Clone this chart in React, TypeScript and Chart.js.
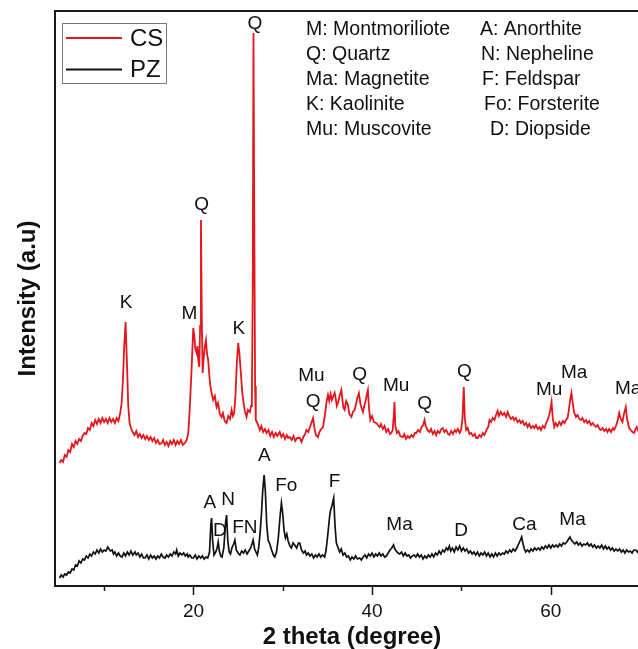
import React, { useEffect, useRef } from "react";
import { Chart, registerables } from "chart.js";

Chart.register(...registerables);

// ---------- DATA ----------
// CS pattern: [2theta (degree), intensity (a.u., offset trace)]
const csPoints: [number, number][] = [
  [5.0,123],[5.2,126],[5.4,124],[5.6,131],[5.8,129],[6.0,136],[6.2,134],[6.4,142],[6.6,139],[6.8,145],
  [7.0,142],[7.2,147],[7.4,145],[7.6,150],[7.8,153],[8.0,152],[8.2,158],[8.4,156],[8.6,163],[8.8,160],
  [9.0,166],[9.2,162],[9.4,167],[9.6,163],[9.8,168],[10.0,164],[10.2,167],[10.4,163],[10.6,168],[10.8,164],
  [11.0,167],[11.2,163],[11.4,168],[11.6,165],[11.8,173],[11.95,182],[12.1,205],[12.25,240],[12.4,264],[12.55,225],
  [12.7,180],[12.85,163],[13.0,158],[13.2,154],[13.4,151],[13.6,155],[13.8,149],[14.0,152],[14.2,148],[14.4,151],
  [14.6,147],[14.8,150],[15.0,146],[15.2,149],[15.4,145],[15.6,148],[15.8,143],[16.0,146],[16.2,142],[16.45,143],
  [16.6,146],[16.8,141],[17.0,144],[17.2,140],[17.4,145],[17.6,142],[17.8,146],[18.0,141],[18.2,145],[18.4,142],
  [18.6,146],[18.8,141],[19.05,143],[19.25,146],[19.42,153],[19.6,180],[19.8,219],[19.98,258],[20.1,250],[20.2,238],
  [20.36,233],[20.45,240],[20.54,226],[20.65,219],[20.75,260],[20.84,366],[20.93,270],[21.03,213],[21.15,228],[21.28,240],
  [21.4,246],[21.52,232],[21.65,226],[21.8,208],[21.9,200],[22.03,193],[22.2,186],[22.4,190],[22.59,179],[22.75,183],
  [22.95,172],[23.15,169],[23.3,173],[23.5,165],[23.71,163],[23.9,170],[24.1,167],[24.27,176],[24.42,170],[24.56,173],
  [24.7,190],[24.85,222],[25.01,243],[25.15,232],[25.31,213],[25.45,195],[25.56,186],[25.75,175],[25.94,169],[26.1,176],
  [26.31,174],[26.45,180],[26.54,186],[26.64,300],[26.72,553],[26.8,390],[26.9,200],[26.98,166],[27.2,162],[27.43,156],
  [27.6,160],[27.8,154],[28.0,157],[28.18,153],[28.4,156],[28.6,150],[28.8,154],[29.0,149],[29.2,153],[29.4,150],
  [29.66,154],[29.85,149],[30.05,152],[30.25,147],[30.45,151],[30.6,148],[30.78,149],[31.0,146],[31.2,150],[31.4,145],
  [31.6,148],[31.9,148],[32.1,144],[32.3,149],[32.5,152],[32.65,156],[32.85,154],[33.05,159],[33.2,163],[33.39,168],
  [33.55,158],[33.7,151],[33.94,149],[34.1,154],[34.3,157],[34.5,159],[34.7,170],[34.9,184],[35.06,191],[35.2,185],
  [35.35,192],[35.5,186],[35.62,189],[35.81,193],[35.95,186],[36.05,180],[36.18,183],[36.35,190],[36.56,196],[36.7,184],
  [36.8,178],[36.93,176],[37.1,185],[37.3,181],[37.45,172],[37.68,169],[37.85,174],[38.04,176],[38.2,182],[38.35,188],
  [38.52,193],[38.7,182],[38.85,177],[38.97,174],[39.15,181],[39.3,186],[39.42,192],[39.53,196],[39.65,178],[39.8,166],
  [40.0,170],[40.2,164],[40.47,163],[40.65,161],[40.84,159],[41.0,162],[41.2,157],[41.4,160],[41.59,154],[41.8,157],
  [42.0,152],[42.15,153],[42.3,156],[42.42,170],[42.51,184],[42.6,160],[42.77,153],[42.95,155],[43.15,150],[43.44,149],
  [43.6,152],[43.8,147],[44.0,150],[44.19,148],[44.4,151],[44.6,149],[44.8,153],[44.94,153],[45.15,156],[45.35,154],
  [45.55,159],[45.72,161],[45.87,166],[46.0,160],[46.2,156],[46.42,154],[46.6,157],[46.8,152],[47.0,155],[47.17,151],
  [47.35,155],[47.55,153],[47.75,157],[47.91,158],[48.1,154],[48.3,156],[48.5,152],[48.66,151],[48.85,155],[49.05,152],
  [49.25,156],[49.41,154],[49.6,157],[49.8,153],[49.97,156],[50.12,168],[50.26,199],[50.38,168],[50.53,156],[50.7,158],
  [50.9,152],[51.08,153],[51.3,150],[51.5,152],[51.65,148],[51.82,148],[52.0,151],[52.2,149],[52.4,153],[52.57,151],
  [52.8,156],[53.0,159],[53.15,166],[53.32,164],[53.5,168],[53.7,166],[53.88,171],[54.05,175],[54.2,170],[54.4,174],
  [54.6,171],[54.8,173],[55.0,169],[55.17,174],[55.35,170],[55.55,167],[55.75,169],[55.92,166],[56.1,168],[56.3,164],
  [56.5,166],[56.67,163],[56.85,165],[57.05,161],[57.25,163],[57.41,159],[57.6,162],[57.8,158],[58.0,160],[58.16,158],
  [58.35,161],[58.55,157],[58.75,159],[58.91,156],[59.1,160],[59.3,158],[59.5,163],[59.64,166],[59.8,170],[59.95,176],
  [60.09,184],[60.22,168],[60.39,159],[60.55,163],[60.75,160],[60.95,164],[61.14,161],[61.35,165],[61.55,163],[61.7,166],
  [61.88,168],[62.0,174],[62.15,185],[62.32,193],[62.45,184],[62.6,174],[62.82,169],[63.0,171],[63.2,167],[63.37,166],
  [63.55,168],[63.75,164],[63.95,166],[64.11,163],[64.3,165],[64.5,161],[64.7,163],[64.86,161],[65.05,159],[65.25,161],
  [65.45,157],[65.61,156],[65.8,158],[66.0,155],[66.2,157],[66.35,154],[66.55,157],[66.75,154],[66.95,158],[67.1,156],
  [67.3,160],[67.5,166],[67.66,173],[67.8,168],[67.9,166],[68.03,164],[68.15,170],[68.28,175],[68.4,179],[68.55,167],
  [68.77,158],[68.95,156],[69.15,154],[69.33,153],[69.5,157],[69.63,159],[69.8,155],[70.0,158],[70.25,154],[70.5,157],
  [70.75,153],[71.0,156]
];

// PZ pattern: [2theta (degree), intensity (a.u.)]
const pzPoints: [number, number][] = [
  [5.0,8],[5.2,11],[5.4,9],[5.6,12],[5.8,11],[6.0,14],[6.2,13],[6.4,17],[6.6,16],[6.8,21],
  [7.0,20],[7.2,25],[7.4,23],[7.6,27],[7.8,26],[8.0,30],[8.2,28],[8.4,32],[8.6,30],[8.8,34],
  [9.0,32],[9.2,36],[9.4,33],[9.6,37],[9.8,34],[10.0,36],[10.2,35],[10.4,39],[10.55,37],[10.7,35],
  [10.9,36],[11.05,32],[11.2,34],[11.4,30],[11.6,33],[11.8,30],[12.0,29],[12.2,33],[12.4,30],[12.6,34],
  [12.8,31],[13.0,35],[13.2,31],[13.46,34],[13.6,31],[13.8,33],[14.0,29],[14.2,32],[14.4,28],[14.58,28],
  [14.8,31],[15.0,27],[15.2,31],[15.4,28],[15.6,30],[15.8,27],[16.0,30],[16.2,28],[16.4,32],[16.6,29],
  [16.82,28],[17.0,31],[17.2,29],[17.4,32],[17.6,30],[17.8,34],[18.0,32],[18.12,36],[18.3,30],[18.5,33],
  [18.7,31],[18.9,33],[19.1,30],[19.3,32],[19.42,29],[19.6,31],[19.8,28],[20.0,28],[20.2,31],[20.4,27],
  [20.6,30],[20.8,28],[21.0,30],[21.2,27],[21.4,29],[21.6,28],[21.8,34],[21.95,62],[22.03,68],[22.15,45],
  [22.3,31],[22.5,34],[22.65,38],[22.77,44],[22.9,35],[23.05,30],[23.2,29],[23.4,38],[23.6,64],[23.71,71],
  [23.85,45],[24.0,34],[24.15,32],[24.3,38],[24.5,42],[24.64,46],[24.8,36],[25.0,33],[25.2,31],[25.4,35],
  [25.6,33],[25.8,36],[26.0,32],[26.2,35],[26.4,38],[26.55,42],[26.68,46],[26.85,37],[27.0,34],[27.15,31],
  [27.3,38],[27.45,52],[27.6,70],[27.75,95],[27.91,111],[28.05,95],[28.2,62],[28.36,46],[28.55,42],[28.75,36],
  [28.95,31],[29.1,29],[29.3,34],[29.5,48],[29.7,70],[29.85,83],[30.0,72],[30.15,55],[30.3,48],[30.45,52],
  [30.6,45],[30.8,40],[30.97,38],[31.15,43],[31.34,41],[31.55,38],[31.75,43],[31.9,43],[32.1,36],[32.3,33],
  [32.5,35],[32.65,31],[32.85,33],[33.05,30],[33.25,32],[33.45,28],[33.65,31],[33.85,29],[34.05,32],[34.25,29],
  [34.45,31],[34.69,29],[34.85,36],[35.06,53],[35.25,70],[35.35,76],[35.44,78],[35.55,82],[35.7,88],[35.85,60],
  [36.0,43],[36.2,38],[36.37,34],[36.55,37],[36.75,31],[36.95,33],[37.15,29],[37.35,30],[37.55,26],[37.75,29],
  [37.95,27],[38.15,30],[38.35,27],[38.6,28],[38.8,26],[39.0,29],[39.2,31],[39.4,28],[39.6,32],[39.8,30],
  [40.0,33],[40.2,29],[40.4,32],[40.6,30],[40.8,33],[41.0,30],[41.2,32],[41.4,29],[41.6,30],[41.8,33],
  [42.0,36],[42.2,38],[42.4,41],[42.55,37],[42.7,35],[42.9,33],[43.1,32],[43.3,34],[43.5,30],[43.7,33],
  [43.9,30],[44.1,31],[44.3,28],[44.5,30],[44.7,31],[44.9,29],[45.1,32],[45.3,29],[45.5,31],[45.7,27],
  [45.9,30],[46.1,28],[46.3,31],[46.5,29],[46.7,32],[46.9,29],[47.1,33],[47.3,31],[47.5,35],[47.7,32],
  [47.9,36],[48.1,34],[48.3,38],[48.47,36],[48.65,40],[48.8,35],[49.0,38],[49.2,34],[49.4,39],[49.6,36],
  [49.8,40],[50.0,35],[50.2,38],[50.4,35],[50.6,37],[50.8,33],[51.0,35],[51.2,32],[51.4,34],[51.6,31],
  [51.8,34],[52.0,30],[52.2,33],[52.4,31],[52.6,34],[52.8,30],[53.0,33],[53.2,29],[53.4,32],[53.6,29],
  [53.8,33],[54.0,30],[54.2,33],[54.4,31],[54.6,33],[54.8,32],[55.0,35],[55.2,33],[55.4,36],[55.6,34],
  [55.8,37],[56.0,35],[56.2,38],[56.4,42],[56.6,46],[56.74,49],[56.9,42],[57.05,37],[57.2,34],[57.4,36],
  [57.6,34],[57.8,37],[58.0,35],[58.2,38],[58.4,36],[58.6,38],[58.8,36],[59.0,39],[59.2,37],[59.4,40],
  [59.6,38],[59.8,41],[60.0,38],[60.2,41],[60.4,39],[60.6,41],[60.8,39],[61.0,42],[61.2,40],[61.4,43],
  [61.6,42],[61.8,44],[62.0,47],[62.15,49],[62.3,46],[62.5,44],[62.7,42],[62.9,44],[63.1,41],[63.3,43],
  [63.5,40],[63.7,42],[63.9,41],[64.1,43],[64.3,40],[64.5,42],[64.7,39],[64.9,41],[65.1,38],[65.3,40],
  [65.5,38],[65.7,41],[65.9,37],[66.1,40],[66.3,37],[66.5,39],[66.7,36],[66.9,38],[67.1,35],[67.3,37],
  [67.5,35],[67.7,37],[67.9,34],[68.1,36],[68.3,33],[68.5,36],[68.7,34],[68.9,35],[69.1,33],[69.3,36],
  [69.5,36],[69.7,34],[69.9,37],[70.2,35],[70.5,36],[70.8,34],[71.0,35]
];

const xTickValues = [20, 40, 60];
const xMinorTickValues = [10, 30, 50, 70];

// peak labels: [text, 2theta, intensity]
const csPeakLabels: [string, number, number][] = [
  ["Q", 26.87, 562], ["Q", 20.92, 381], ["K", 12.46, 283], ["M", 19.55, 272], ["K", 25.08, 257],
  ["Mu", 33.21, 210], ["Q", 33.39, 184], ["Q", 38.6, 211], ["Mu", 42.7, 200], ["Q", 45.87, 182],
  ["Q", 50.34, 214], ["Mu", 59.83, 196], ["Ma", 62.63, 213], ["Ma", 68.66, 197]
];
const pzPeakLabels: [string, number, number][] = [
  ["A", 21.84, 83], ["N", 23.89, 86], ["D", 22.96, 55], ["FN", 25.75, 58], ["A", 27.93, 130],
  ["Fo", 30.39, 100], ["F", 35.81, 104], ["Ma", 43.07, 61], ["D", 49.97, 55], ["Ca", 57.04, 61],
  ["Ma", 62.44, 66]
];

const seriesNames = ["CS", "PZ"];
const phaseKeyLeft = ["M: Montmoriliote", "Q: Quartz", "Ma: Magnetite", "K: Kaolinite", "Mu: Muscovite"];
const phaseKeyRight = ["A: Anorthite", "N: Nepheline", "F: Feldspar", "Fo: Forsterite", "D: Diopside"];

// ---------- STYLE / LAYOUT ----------
const FONT = "'Liberation Sans', Arial, Helvetica, sans-serif";
const RED = "#e3161b";
const BLACK = "#111111";
const keyLeftX = 306;
const keyRightX = [480, 481, 482, 484, 490];
const keyBaselines = [35, 60, 85, 110, 135];

const decorPlugin = {
  id: "decor",
  afterDraw(chart: any) {
    const { ctx, chartArea: a, scales } = chart;
    const xs = scales.x;
    const ys = scales.y;
    ctx.save();

    // frame
    ctx.strokeStyle = "#1a1a1a";
    ctx.lineWidth = 2;
    ctx.beginPath();
    ctx.moveTo(a.left, a.top);
    ctx.lineTo(a.right, a.top);
    ctx.lineTo(a.right, a.bottom);
    ctx.lineTo(a.left, a.bottom);
    ctx.closePath();
    ctx.stroke();

    // ticks
    ctx.lineWidth = 1.5;
    ctx.beginPath();
    for (const v of xTickValues) {
      const p = Math.round(xs.getPixelForValue(v)) + 0.5;
      ctx.moveTo(p, a.bottom);
      ctx.lineTo(p, a.bottom + 9);
    }
    for (const v of xMinorTickValues) {
      const p = Math.round(xs.getPixelForValue(v)) + 0.5;
      ctx.moveTo(p, a.bottom);
      ctx.lineTo(p, a.bottom + 5);
    }
    ctx.stroke();

    // axis titles
    ctx.fillStyle = BLACK;
    ctx.font = `bold 24px ${FONT}`;
    ctx.textAlign = "center";
    ctx.textBaseline = "alphabetic";
    ctx.fillText("2 theta (degree)", (a.left + a.right) / 2, 644);
    ctx.save();
    ctx.translate(35, (a.top + a.bottom) / 2);
    ctx.rotate(-Math.PI / 2);
    ctx.fillText("Intensity (a.u)", 0, 0);
    ctx.restore();

    // peak labels
    ctx.font = `19px ${FONT}`;
    ctx.textAlign = "center";
    ctx.textBaseline = "middle";
    for (const [t, x, y] of [...csPeakLabels, ...pzPeakLabels]) {
      ctx.fillText(t, xs.getPixelForValue(x), ys.getPixelForValue(y));
    }

    // phase key
    ctx.font = `19.5px ${FONT}`;
    ctx.textAlign = "left";
    ctx.textBaseline = "alphabetic";
    phaseKeyLeft.forEach((s, i) => ctx.fillText(s, keyLeftX, keyBaselines[i]));
    phaseKeyRight.forEach((s, i) => ctx.fillText(s, keyRightX[i], keyBaselines[i]));

    // legend
    ctx.strokeStyle = "#777";
    ctx.lineWidth = 1;
    ctx.strokeRect(62.5, 23.5, 104, 60);
    const colors = [RED, BLACK];
    const rows = [38, 69.5];
    ctx.font = `24px ${FONT}`;
    ctx.textBaseline = "middle";
    seriesNames.forEach((n, i) => {
      ctx.strokeStyle = colors[i];
      ctx.lineWidth = 1.8;
      ctx.beginPath();
      ctx.moveTo(66, rows[i]);
      ctx.lineTo(122, rows[i]);
      ctx.stroke();
      ctx.fillStyle = BLACK;
      ctx.fillText(n, 130, rows[i] + 1);
    });

    ctx.restore();
  },
};

export default function App() {
  const ref = useRef<HTMLCanvasElement | null>(null);
  useEffect(() => {
    if (!ref.current) return;
    const chart = new Chart(ref.current, {
      type: "line",
      data: {
        datasets: [
          {
            label: seriesNames[0],
            data: csPoints.map(([x, y]) => ({ x, y })),
            borderColor: RED,
            borderWidth: 1.8,
            pointRadius: 0,
            tension: 0,
            fill: false,
          },
          {
            label: seriesNames[1],
            data: pzPoints.map(([x, y]) => ({ x, y })),
            borderColor: BLACK,
            borderWidth: 1.7,
            pointRadius: 0,
            tension: 0,
            fill: false,
          },
        ],
      },
      options: {
        animation: false,
        responsive: false,
        devicePixelRatio: 1,
        layout: { padding: { left: 55, top: 11, right: 11, bottom: 0 } },
        plugins: { legend: { display: false }, tooltip: { enabled: false } },
        scales: {
          x: {
            type: "linear",
            min: 4.5,
            max: 71,
            grid: { display: false, drawTicks: false },
            border: { display: false },
            afterBuildTicks: (scale: any) => {
              scale.ticks = xTickValues.map((v) => ({ value: v }));
            },
            afterFit: (scale: any) => {
              scale.height = 63;
            },
            ticks: {
              font: { size: 19, family: FONT },
              color: BLACK,
              padding: 14,
              maxRotation: 0,
              autoSkip: false,
            },
          },
          y: {
            type: "linear",
            display: false,
            min: 0,
            max: 575,
          },
        },
      },
      plugins: [decorPlugin],
    } as any);
    return () => chart.destroy();
  }, []);

  return (
    <div
      style={{
        position: "fixed",
        left: 0,
        top: 0,
        width: 638,
        height: 649,
        overflow: "hidden",
        background: "#fff",
      }}
    >
      <canvas ref={ref} width={660} height={649} style={{ display: "block" }} />
    </div>
  );
}
